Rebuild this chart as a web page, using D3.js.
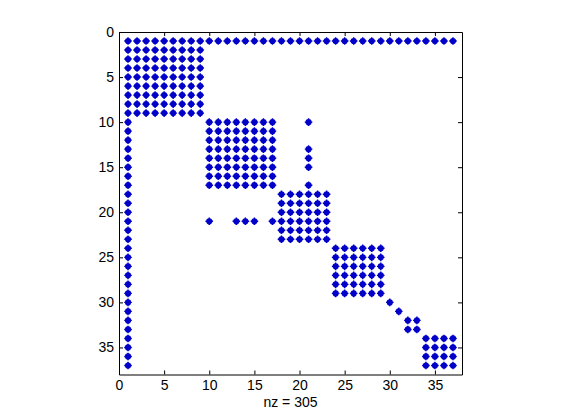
<!DOCTYPE html>
<html>
<head>
  <meta charset="utf-8">
  <title>spy</title>
  <script src="https://d3js.org/d3.v7.min.js"></script>
  <style>
    body { margin: 0; background: #fff; }
    text { font-family: Arial, "Liberation Sans", sans-serif; font-size: 13px; fill: #000; }
  </style>
</head>
<body>
<div id="chart"></div>
<script>
  // matrix size and nonzero pattern, row by row (column runs)
  var n = 37;
  var rowPattern = [
    "1-37",
    "1-9", "1-9", "1-9", "1-9", "1-9", "1-9", "1-9", "1-9",
    "1,10-17,21", "1,10-17", "1,10-17", "1,10-17,21", "1,10-17,21", "1,10-17,21", "1,10-17", "1,10-17,21",
    "1,18-23", "1,18-23", "1,18-23", "1,10,13-15,17-23", "1,18-23", "1,18-23",
    "1,24-29", "1,24-29", "1,24-29", "1,24-29", "1,24-29", "1,24-29",
    "1,30", "1,31",
    "1,32-33", "1,32-33",
    "1,34-37", "1,34-37", "1,34-37", "1,34-37"
  ];
  var ticks = [0, 5, 10, 15, 20, 25, 30, 35];

  var width = 561, height = 420;
  var margin = {left: 119, top: 32, right: 99, bottom: 45.5};

  // turn the row patterns into (row, col) points
  var points = [];
  rowPattern.forEach(function(s, i) {
    s.split(",").forEach(function(part) {
      var ab = part.split("-").map(Number);
      var a = ab[0], b = ab.length > 1 ? ab[1] : ab[0];
      for (var c = a; c <= b; c++) points.push({row: i + 1, col: c});
    });
  });

  var svg = d3.select("#chart").append("svg")
    .attr("width", width).attr("height", height);

  var x = d3.scaleLinear().domain([0, n + 1]).range([margin.left, width - margin.right]);
  var y = d3.scaleLinear().domain([0, n + 1]).range([margin.top, height - margin.bottom]);

  //markers
  var g = svg.append("g").attr("fill", "#0000c8").attr("stroke", "#0000c8");
  var mk = g.selectAll("g.m").data(points).enter().append("g")
    .attr("transform", function(d) { return "translate(" + x(d.col) + "," + y(d.row) + ")"; });
  mk.append("circle").attr("r", 3.1).attr("stroke", "none");
  mk.append("path").attr("d", "M-3.8,0H3.8M0,-3.8V3.8").attr("stroke-width", 1.4);

  //axes (ticks inward, mirrored on top/right)
  var axBottom = d3.axisBottom(x).tickValues(ticks).tickSizeInner(-4).tickSizeOuter(0).tickPadding(6);
  var axLeft = d3.axisLeft(y).tickValues(ticks).tickSizeInner(-4).tickSizeOuter(0).tickPadding(5);
  var axTop = d3.axisTop(x).tickValues(ticks).tickSizeInner(-4).tickSizeOuter(0).tickFormat("");
  var axRight = d3.axisRight(y).tickValues(ticks).tickSizeInner(-4).tickSizeOuter(0).tickFormat("");

  [[axBottom, "translate(0," + y(n + 1) + ")"], [axLeft, "translate(" + x(0) + ",0)"],
   [axTop, "translate(0," + y(0) + ")"], [axRight, "translate(" + x(n + 1) + ",0)"]].forEach(function(a) {
    var ax = svg.append("g").attr("transform", a[1]).call(a[0]);
    ax.selectAll("text").style("font-size", "14px").style("font-family", "Arial, 'Liberation Sans', sans-serif").attr("fill", "#000");
    ax.selectAll("path, line").attr("stroke", "#000");
  });

  svg.append("text")
    .attr("x", (x(0) + x(n + 1)) / 2).attr("y", 407)
    .attr("text-anchor", "middle")
    .style("font-size", "14px")
    .text("nz = " + points.length);
</script>
</body>
</html>
